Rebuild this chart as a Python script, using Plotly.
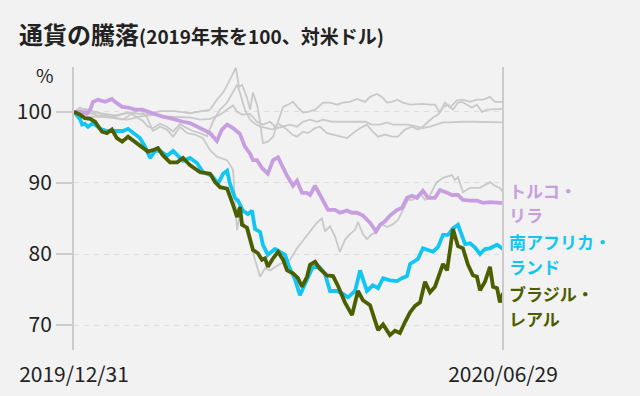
import pandas as pd
import plotly.graph_objects as go

START = pd.Timestamp("2019-12-31")
END = pd.Timestamp("2020-06-29")

# Day offsets from 2019-12-31 and index values (2019 year-end = 100)
brazil_days = [0, 2.5, 4.6, 6.8, 8.9, 11.8, 13.9, 16.0, 18.1, 20.3, 22.8, 25.7, 28.7, 31.2, 33.3, 35.4, 37.5, 40.5, 43.5, 46.0, 48.9, 53.2, 57.4, 59.5, 61.6, 64.6, 67.1, 68.8, 70.0, 70.9, 73.0, 74.3, 75.5, 77.6, 79.3, 80.6, 81.8, 84.0, 86.1, 88.2, 89.9, 92.4, 94.5, 96.2, 98.3, 99.6, 101.7, 103.8, 106.7, 109.3, 111.4, 114.3, 117.3, 119.8, 121.9, 124.9, 126.1, 128.3, 130.4, 133.3, 135.4, 137.5, 139.6, 141.8, 143.9, 146.0, 148.1, 150.2, 152.3, 155.7, 157.4, 159.9, 162.0, 164.1, 166.2, 168.3, 170.0, 171.3, 173.4, 175.5, 176.8, 178.5, 179.7, 181.0]
brazil_vals = [100, 99.6, 99.1, 99.0, 98.6, 97.2, 97.0, 97.5, 96.3, 95.8, 96.5, 95.8, 95.1, 94.4, 94.6, 94.9, 93.9, 92.9, 92.9, 93.5, 92.5, 91.5, 91.3, 90.1, 89.4, 89.2, 86.9, 85.2, 86.6, 84.1, 83.7, 82.0, 80.6, 80.1, 79.2, 79.4, 78.2, 79.4, 80.3, 79.2, 77.7, 77.3, 76.6, 75.4, 76.8, 78.5, 78.9, 77.9, 77.0, 76.9, 75.5, 73.2, 71.4, 74.8, 73.5, 72.8, 71.7, 69.3, 70.1, 68.6, 69.2, 68.9, 70.4, 71.8, 72.7, 73.2, 76.1, 74.6, 75.4, 78.6, 77.7, 83.5, 81.1, 80.8, 78.5, 77.0, 76.8, 74.9, 76.1, 78.2, 75.4, 75.2, 73.2, 74.5]

safrica_days = [0, 2.5, 3.4, 4.6, 5.9, 7.6, 8.9, 11.0, 13.9, 16.0, 18.1, 20.7, 22.8, 25.7, 27.8, 30.0, 32.1, 34.2, 36.3, 39.2, 41.8, 43.9, 46.0, 48.9, 51.9, 54.4, 58.2, 60.8, 62.9, 64.6, 65.8, 67.9, 69.2, 71.3, 73.4, 75.1, 76.4, 78.5, 79.7, 81.8, 84.8, 86.9, 89.0, 91.1, 93.2, 95.3, 98.3, 100.8, 103.8, 105.9, 108.0, 111.0, 113.5, 115.6, 118.6, 120.7, 123.6, 126.1, 128.3, 130.4, 133.3, 136.3, 138.4, 140.5, 141.8, 145.1, 147.2, 149.4, 151.5, 153.6, 155.7, 157.8, 159.9, 162.0, 163.7, 165.0, 167.1, 169.2, 171.3, 173.4, 175.5, 178.5, 181.0]
safrica_vals = [100, 99.0, 98.2, 98.3, 97.9, 98.3, 98.2, 97.6, 97.3, 97.3, 97.2, 97.3, 97.6, 96.8, 96.3, 95.1, 93.5, 94.5, 94.5, 93.8, 94.5, 93.8, 93.1, 93.5, 92.8, 91.5, 91.0, 89.9, 91.3, 91.7, 89.9, 87.9, 87.5, 86.1, 85.6, 86.1, 83.5, 83.1, 81.3, 79.9, 80.7, 80.3, 79.9, 77.9, 76.5, 74.2, 76.3, 78.2, 78.1, 77.2, 74.8, 74.8, 74.4, 73.9, 74.8, 77.7, 74.8, 75.6, 75.2, 76.6, 76.3, 76.2, 76.6, 76.9, 78.6, 79.3, 80.8, 80.6, 80.3, 81.0, 82.7, 82.7, 83.6, 84.1, 82.4, 81.4, 81.5, 80.9, 80.0, 80.7, 80.8, 81.3, 80.7]

turkey_days = [0, 2.5, 5.5, 6.8, 8.0, 10.1, 13.1, 16.0, 17.3, 20.3, 22.8, 25.7, 28.7, 32.1, 35.0, 37.5, 40.5, 43.5, 46.0, 48.9, 53.2, 57.4, 60.3, 62.4, 64.6, 67.1, 70.0, 72.1, 74.3, 75.5, 77.2, 79.3, 81.8, 84.0, 86.1, 88.2, 89.9, 92.4, 94.1, 96.2, 98.3, 99.6, 101.7, 103.8, 105.9, 107.2, 110.1, 112.2, 115.2, 117.3, 119.4, 121.9, 124.9, 127.4, 129.1, 131.2, 133.3, 136.3, 138.4, 140.5, 142.6, 144.7, 147.2, 149.4, 152.3, 154.4, 157.4, 159.5, 162.0, 164.1, 167.1, 170.0, 172.6, 175.5, 179.7, 181.0]
turkey_vals = [100, 100.0, 99.8, 100.3, 101.4, 101.7, 101.4, 101.8, 101.4, 100.7, 100.6, 100.3, 100.3, 99.9, 99.6, 99.3, 99.1, 98.9, 98.6, 98.4, 97.7, 97.0, 95.9, 97.5, 98.2, 97.7, 96.9, 95.1, 94.1, 93.2, 93.2, 92.1, 91.3, 93.2, 93.6, 92.1, 91.0, 89.6, 90.3, 88.6, 88.6, 88.3, 89.6, 88.3, 86.9, 86.2, 86.2, 85.8, 86.1, 85.8, 85.8, 85.4, 84.4, 83.2, 84.1, 84.6, 85.4, 86.2, 86.5, 87.9, 88.2, 87.9, 88.9, 87.9, 87.9, 89.0, 88.6, 88.3, 88.3, 87.6, 87.5, 87.5, 87.2, 87.3, 87.2, 87.2]

# Other currencies (grey background lines)
other1_days = [0, 2.5, 5.5, 9.7, 15.2, 20.7, 24.9, 27.8, 30.8, 33.3, 36.3, 39.2, 41.8, 44.7, 47.7, 51.0, 54.4, 57.4, 60.3, 64.6, 67.1, 68.8, 70.0, 72.1, 74.3, 76.4, 78.5, 80.6, 82.7, 86.9, 91.1, 94.1, 96.6, 99.6, 102.5, 104.6, 105.9, 108.0, 110.1, 112.2, 114.3, 116.4, 118.6, 119.8, 121.9, 123.6, 125.7, 127.8, 129.9, 132.1, 134.6, 136.7, 138.8, 140.9, 143.0, 146.0, 148.1, 150.2, 153.1, 155.7, 159.5, 160.7, 162.0, 164.1, 167.1, 171.3, 175.5, 177.6, 179.7, 181.0]
other1_vals = [100, 100.6, 100.0, 99.5, 99.3, 98.9, 99.9, 100.3, 99.2, 97.3, 97.9, 97.5, 96.5, 97.9, 97.0, 96.8, 96.3, 94.6, 93.7, 93.2, 91.8, 83.4, 85.5, 84.0, 81.5, 79.0, 76.8, 78.0, 77.7, 78.6, 79.2, 80.8, 81.9, 83.2, 84.4, 85.0, 83.2, 83.9, 82.5, 80.3, 82.0, 82.8, 83.4, 84.5, 82.8, 82.1, 82.8, 83.1, 84.2, 83.8, 84.2, 84.8, 86.3, 87.6, 87.6, 88.6, 87.6, 88.3, 90.1, 90.7, 91.1, 90.4, 90.8, 88.7, 89.3, 89.3, 90.1, 89.6, 89.3, 88.7]

other2_days = [0, 4.6, 11.0, 17.3, 23.6, 30.0, 36.3, 42.6, 48.9, 53.2, 57.4, 60.3, 62.9, 65.0, 67.1, 68.3, 69.6, 70.9, 73.0, 74.3, 75.5, 77.2, 78.5, 79.7, 81.8, 84.0, 86.1, 88.2, 90.3, 92.4, 94.5, 96.6, 98.7, 101.7, 105.1, 108.0, 111.0, 113.5, 116.4, 119.4, 122.8, 124.9, 127.8, 129.9, 132.1, 134.2, 136.3, 138.8, 141.8, 144.7, 147.2, 150.2, 152.3, 154.4, 156.5, 158.6, 161.6, 164.1, 167.1, 170.0, 172.6, 175.5, 177.6, 181.0]
other2_vals = [100, 100.4, 99.8, 99.5, 99.9, 99.6, 100.1, 100.1, 99.8, 100.0, 100.3, 101.7, 102.7, 104.0, 105.5, 106.2, 103.5, 103.8, 102.0, 100.3, 102.7, 101.0, 98.6, 95.6, 95.8, 96.5, 98.6, 100.7, 101.0, 101.4, 100.6, 99.9, 100.0, 100.3, 101.3, 101.3, 101.0, 101.3, 101.4, 101.8, 101.4, 102.1, 102.5, 102.1, 101.3, 101.4, 101.7, 101.3, 101.0, 101.1, 101.1, 101.0, 101.0, 99.9, 101.3, 100.6, 101.6, 101.7, 101.4, 101.7, 101.7, 102.1, 101.4, 101.4]

other3_days = [0, 3.8, 9.7, 12.2, 16.5, 19.4, 22.8, 26.6, 30.8, 35.0, 40.5, 46.0, 48.9, 53.2, 57.4, 61.6, 64.6, 67.1, 68.8, 70.9, 74.3, 77.2, 79.7, 82.7, 85.6, 88.2, 91.1, 94.1, 96.6, 99.6, 102.5, 105.1, 108.9, 111.4, 114.3, 117.3, 119.4, 122.8, 125.7, 129.1, 132.1, 134.6, 137.5, 140.9, 144.7, 147.2, 150.2, 153.1, 155.7, 158.6, 161.6, 164.1, 168.3, 172.6, 176.8, 181.0]
other3_vals = [100, 99.6, 99.9, 99.6, 99.3, 99.6, 99.9, 99.3, 99.4, 99.6, 99.3, 99.2, 99.2, 98.9, 99.0, 99.6, 100.3, 100.9, 100.0, 99.6, 99.7, 98.6, 98.2, 98.6, 97.7, 97.9, 98.2, 97.9, 98.6, 98.9, 98.6, 98.9, 98.6, 98.6, 98.6, 98.6, 98.5, 98.6, 98.2, 98.2, 98.5, 98.2, 98.2, 98.2, 97.9, 97.7, 97.9, 98.2, 98.5, 98.5, 98.6, 98.6, 98.6, 98.6, 98.6, 98.5]

other4_days = [0, 6.8, 12.2, 18.1, 22.4, 26.6, 29.1, 31.2, 33.3, 36.3, 39.2, 41.8, 44.7, 47.7, 50.2, 53.2, 56.1, 58.6, 61.6, 64.6, 67.1, 68.8, 70.0, 72.1, 74.3, 76.4, 78.5, 81.4, 84.0, 86.1, 89.9, 92.0, 94.1, 96.6, 98.7, 101.7, 103.8, 106.7, 109.3, 112.2, 115.2, 117.7, 120.7, 123.6, 126.1, 128.3, 131.2, 134.2, 136.7, 139.6, 142.6, 145.1, 147.2, 149.4, 151.5, 153.6, 155.7, 157.8, 159.9, 162.0, 163.7, 165.8, 167.9, 170.0, 172.1, 174.3, 176.8, 181.0]
other4_vals = [100, 99.3, 99.3, 99.1, 98.9, 99.2, 98.7, 97.9, 97.7, 98.3, 97.9, 97.2, 98.3, 97.7, 97.3, 97.0, 96.6, 98.6, 100.3, 101.3, 102.7, 103.8, 102.7, 100.3, 98.9, 98.3, 97.9, 97.7, 97.5, 98.4, 97.5, 96.8, 96.5, 97.2, 97.0, 97.7, 97.9, 97.0, 96.8, 96.5, 96.3, 97.0, 97.7, 98.2, 97.2, 96.5, 96.8, 96.5, 96.5, 97.5, 97.9, 97.5, 97.9, 98.6, 99.2, 99.6, 100.6, 101.0, 100.3, 101.3, 101.4, 101.0, 100.6, 101.0, 100.0, 100.3, 100.3, 100.4]

y_ticks = [70, 80, 90, 100]
x_tick_dates = ["2019-12-31", "2020-06-29"]
x_tick_text = ["2019/12/31", "2020/06/29"]

# Right-hand series labels, one entry per text line
label_lines = ["トルコ・", "リラ", "南アフリカ・", "ランド", "ブラジル・", "レアル"]
label_line_y = [89.0, 85.5, 81.8, 78.3, 74.5, 71.0]

GREY = "#c9c9c9"
PURPLE = "#c79ee0"
CYAN = "#12c6f3"
OLIVE = "#4b5e00"
BG = "#f2f2f2"
FONT = "Noto Sans CJK JP"
label_colors = [PURPLE, PURPLE, CYAN, CYAN, OLIVE, OLIVE]


def to_dates(days):
    return START + pd.to_timedelta(days, unit="D")


fig = go.Figure()
for d, v in [(other1_days, other1_vals), (other2_days, other2_vals),
             (other3_days, other3_vals), (other4_days, other4_vals)]:
    fig.add_trace(go.Scatter(x=to_dates(d), y=v, mode="lines",
                             line=dict(color=GREY, width=1.8), hoverinfo="skip"))

for d, v, c in [(turkey_days, turkey_vals, PURPLE),
                (safrica_days, safrica_vals, CYAN),
                (brazil_days, brazil_vals, OLIVE)]:
    fig.add_trace(go.Scatter(x=to_dates(d), y=v, mode="lines",
                             line=dict(color=c, width=3.8)))

for txt, yv, c in zip(label_lines, label_line_y, label_colors):
    fig.add_annotation(x=END, y=yv, xref="x", yref="y", text="<b>" + txt + "</b>",
                       showarrow=False, xanchor="left", yanchor="middle", align="left",
                       xshift=5, borderpad=0, font=dict(family=FONT, size=17, color=c))

fig.add_shape(type="line", xref="paper", yref="paper", x0=1, x1=1, y0=0, y1=1,
              line=dict(color="#cccccc", width=2))

fig.add_annotation(x=-0.068, y=0.972, xref="paper", yref="paper", text="%",
                   showarrow=False, xanchor="center", yanchor="middle",
                   font=dict(family=FONT, size=19, color="#222222"))

fig.update_layout(
    width=640, height=396,
    paper_bgcolor=BG, plot_bgcolor=BG,
    margin=dict(l=74, r=137, t=67, b=46, autoexpand=False),
    showlegend=False,
    title=dict(
        text="<b>通貨の騰落</b><b><span style='font-size:19px'>(2019年末を100、対米ドル)</span></b>",
        x=19 / 640, xanchor="left", xref="container",
        y=1 - 36 / 396, yanchor="middle", yref="container",
        font=dict(family=FONT, size=24, color="#222222")),
    xaxis=dict(type="date", range=[START, END], showgrid=False, showline=False,
               zeroline=False, tickvals=x_tick_dates, ticktext=x_tick_text,
               ticks="outside", ticklen=6, tickcolor="rgba(0,0,0,0)",
               automargin=False,
               tickfont=dict(family=FONT, size=21, color="#222222")),
    yaxis=dict(range=[66.5, 106.3], tickvals=y_ticks, showgrid=True,
               gridcolor="#dddddd", griddash="5px,5px", gridwidth=1,
               showline=True, linecolor="#cccccc", linewidth=2,
               ticks="outside", ticklen=16, tickwidth=2, tickcolor="#cccccc",
               zeroline=False, automargin=False,
               tickfont=dict(family=FONT, size=21, color="#222222")),
)

fig.write_html("out.html", config={"displayModeBar": False},
               post_script="document.body.style.margin='0';document.body.style.overflow='hidden';")
